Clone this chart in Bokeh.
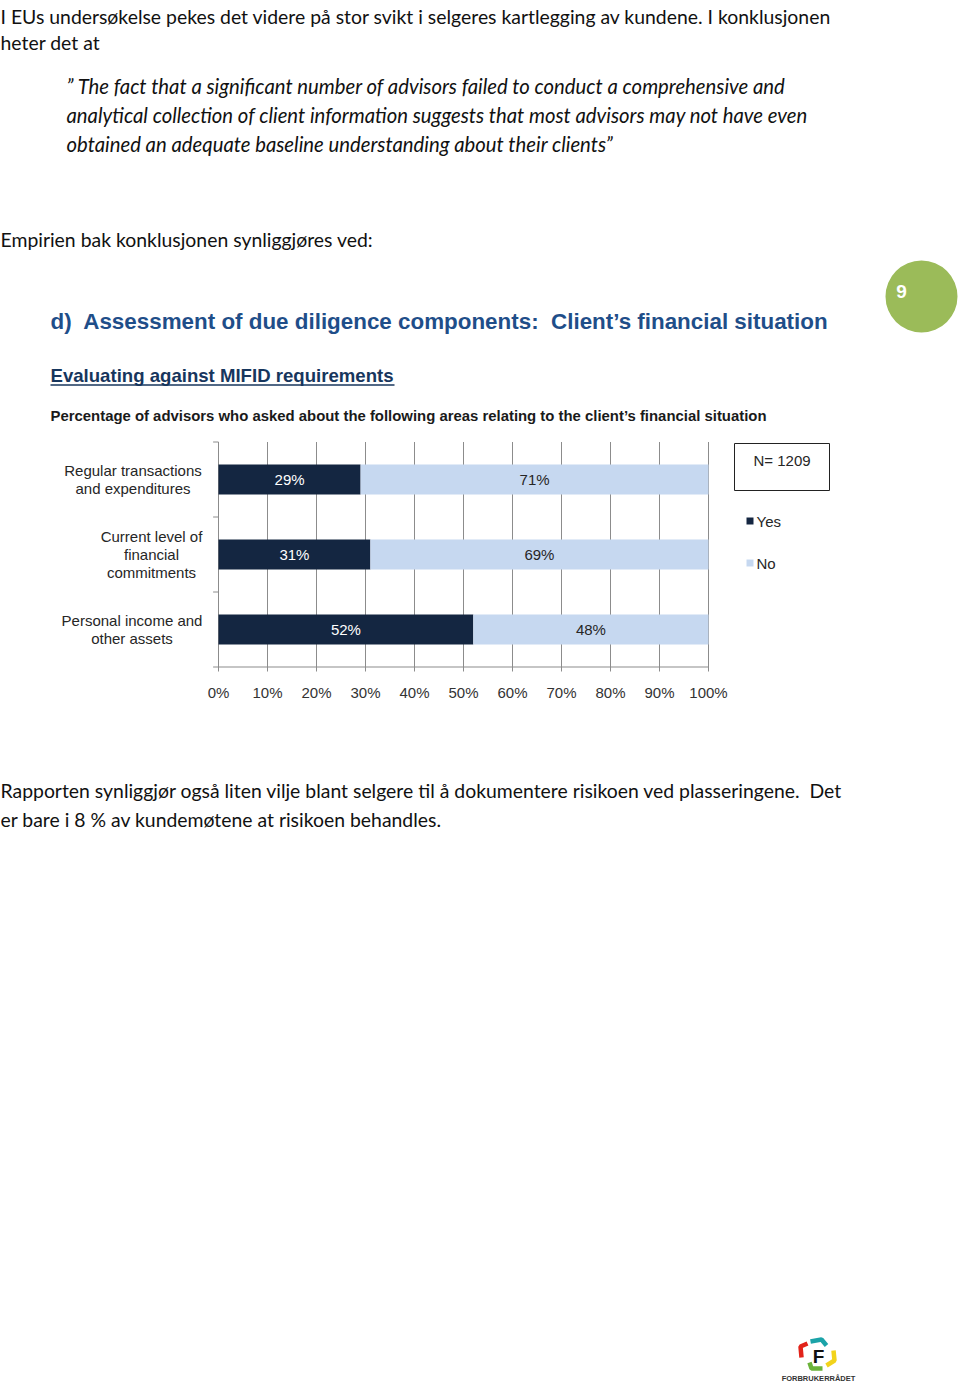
from bokeh.plotting import figure
from bokeh.models import Range1d, ColumnDataSource
from bokeh.core.properties import value
from bokeh.embed import file_html
from bokeh.resources import INLINE

# ---------------- data ----------------
categories = ["Regular transactions\nand expenditures",
              "Current level of\nfinancial\ncommitments",
              "Personal income and\nother assets"]
yes_pct = [29, 31, 52]
no_pct = [71, 69, 48]
tick_values = [0, 10, 20, 30, 40, 50, 60, 70, 80, 90, 100]
tick_labels = ["0%", "10%", "20%", "30%", "40%", "50%", "60%", "70%", "80%", "90%", "100%"]
series_names = ["Yes", "No"]
n_label = "N= 1209"

body_top = ["I EUs undersøkelse pekes det videre på stor svikt i selgeres kartlegging av kundene. I konklusjonen",
            "heter det at"]
quote_lines = ["” The fact that a significant number of advisors failed to conduct a comprehensive and",
               "analytical collection of client information suggests that most advisors may not have even",
               "obtained an adequate baseline understanding about their clients”"]
lead_in = "Empirien bak konklusjonen synliggjøres ved:"
body_bottom = ["Rapporten synliggjør også liten vilje blant selgere til å dokumentere risikoen ved plasseringene.\u00a0 Det",
               "er bare i 8 % av kundemøtene at risikoen behandles."]
chart_title = "d)\u00a0 Assessment of due diligence components:\u00a0 Client’s financial situation"
chart_sub = "Evaluating against MIFID requirements"
chart_desc = "Percentage of advisors who asked about the following areas relating to the client’s financial situation"
page_number = "9"

# ---------------- style / layout ----------------
W, H = 960, 1383
YES_C = "#142641"
NO_C = "#c6d8f0"
BODY_FONT = "Lato"
CH_FONT = "Liberation Sans"
CH_SIZE = "15px"

# chart plot area in page pixels
PX_LEFT, PX_PER_PCT = 218.0, 4.9
CAT0_PX, CAT_STEP = 479.0, 75.0

p = figure(width=W, height=H, x_range=Range1d(0, W), y_range=Range1d(H, 0),
           output_backend="svg", toolbar_location=None, min_border=0,
           x_axis_type=None, y_axis_type=None)
p.outline_line_color = None
p.grid.visible = False
p.background_fill_color = "white"
p.border_fill_color = "white"

p.extra_x_ranges = {"pct": Range1d(-PX_LEFT / PX_PER_PCT, (W - PX_LEFT) / PX_PER_PCT)}
p.extra_y_ranges = {"cat": Range1d((H - CAT0_PX) / CAT_STEP, (0 - CAT0_PX) / CAT_STEP)}

# ---------- body text ----------
def body(lines, x, ys, size, italic=False):
    src = ColumnDataSource(dict(x=[x] * len(lines), y=ys, t=lines))
    p.text(x="x", y="y", text="t", source=src, text_font=value(BODY_FONT),
           text_font_size=size, text_color="#111111", text_baseline="alphabetic",
           text_font_style="italic" if italic else "normal")

body(body_top, 0, [16, 42], "19.4px")
body(quote_lines, 66, [85, 114, 143], "20.3px", italic=True)
body([lead_in], 0, [239], "19.4px")
body(body_bottom, 0, [790, 819], "19.4px")

# ---------- chart headings ----------
p.text(x=[50], y=[321], text=[chart_title], text_font=value(CH_FONT), text_font_size="22.4px",
       text_font_style="bold", text_color="#1f4e89", text_baseline="middle")
p.text(x=[50], y=[375], text=[chart_sub], text_font=value(CH_FONT), text_font_size="18.6px",
       text_font_style="bold", text_color="#17365d", text_baseline="middle")
p.segment(x0=[50], y0=[384.5], x1=[394], y1=[384.5], line_color="#17365d", line_width=1.5)
p.text(x=[50], y=[415], text=[chart_desc], text_font=value(CH_FONT), text_font_size="14.9px",
       text_font_style="bold", text_color="#1a1a1a", text_baseline="middle")

# ---------- grid & axes (in data ranges) ----------
n = len(categories)
idx = list(range(n))
p.segment(x0=tick_values, x1=tick_values, y0=[-0.5] * len(tick_values), y1=[n - 0.5 + 0.06] * len(tick_values),
          line_color="#8c8c8c", line_width=1, x_range_name="pct", y_range_name="cat")
p.segment(x0=[0], x1=[100], y0=[n - 0.5], y1=[n - 0.5], line_color="#8c8c8c", line_width=1.2,
          x_range_name="pct", y_range_name="cat")
bounds = [i - 0.5 for i in range(n + 1)]
p.segment(x0=[-1.1] * len(bounds), x1=[0] * len(bounds), y0=bounds, y1=bounds, line_color="#8c8c8c",
          line_width=1, x_range_name="pct", y_range_name="cat")

# bars
yes_src = ColumnDataSource(dict(y=idx, left=[0] * n, right=yes_pct,
                                mid=[v / 2 for v in yes_pct], lab=[f"{v}%" for v in yes_pct]))
no_src = ColumnDataSource(dict(y=idx, left=yes_pct, right=[a + b for a, b in zip(yes_pct, no_pct)],
                               mid=[a + b / 2 for a, b in zip(yes_pct, no_pct)], lab=[f"{v}%" for v in no_pct]))
p.hbar(y="y", left="left", right="right", height=0.4, source=yes_src, fill_color=YES_C,
       line_color=None, x_range_name="pct", y_range_name="cat")
p.hbar(y="y", left="left", right="right", height=0.4, source=no_src, fill_color=NO_C,
       line_color=None, x_range_name="pct", y_range_name="cat")
p.text(x="mid", y="y", text="lab", source=yes_src, text_font=value(CH_FONT), text_font_size=CH_SIZE,
       text_color="white", text_align="center", text_baseline="middle",
       x_range_name="pct", y_range_name="cat")
p.text(x="mid", y="y", text="lab", source=no_src, text_font=value(CH_FONT), text_font_size=CH_SIZE,
       text_color="#262626", text_align="center", text_baseline="middle",
       x_range_name="pct", y_range_name="cat")

# tick labels
p.text(x=tick_values, y=[n - 0.5 + 0.34] * len(tick_values), text=tick_labels, text_font=value(CH_FONT),
       text_font_size=CH_SIZE, text_color="#333333", text_align="center", text_baseline="middle",
       x_range_name="pct", y_range_name="cat")

# category labels (multi-line, centred blocks ending at the axis)
cat_centers_px = [132.5, 151, 131.5]
p.text(x=cat_centers_px, y=[(CAT0_PX + CAT_STEP * i) for i in idx], text=categories,
       text_font=value(CH_FONT), text_font_size=CH_SIZE, text_color="#262626", text_align="center",
       text_baseline="middle", text_line_height=1.05)

# ---------- N box & legend ----------
p.quad(left=[734], right=[829], top=[443], bottom=[490], fill_color="white", line_color="#222222", line_width=1)
p.text(x=[781.5], y=[460], text=[n_label], text_font=value(CH_FONT), text_font_size=CH_SIZE,
       text_color="#262626", text_align="center", text_baseline="middle")
p.rect(x=[749.5, 749.5], y=[520.5, 562.5], width=7, height=7, fill_color=[YES_C, NO_C], line_color=None)
p.text(x=[756, 756], y=[521, 563], text=series_names, text_font=value(CH_FONT), text_font_size=CH_SIZE,
       text_color="#262626", text_baseline="middle")

# ---------- page number badge ----------
p.circle(x=[921], y=[296], radius=36, fill_color="#9bbb59", line_color=None)
p.text(x=[901], y=[291], text=[page_number], text_font=value(CH_FONT), text_font_size="19px",
       text_font_style="bold", text_color="white", text_align="center", text_baseline="middle")

# ---------- logo ----------
p.multi_line(xs=[[807, 800, 801], [810, 821, 826], [833, 834, 826], [822, 811, 809]],
             ys=[[1343, 1346, 1357], [1341, 1339, 1345], [1350, 1360, 1365], [1368, 1368, 1362]],
             line_color=["#e2231a", "#1ba3a8", "#f2d31b", "#6bb33a"], line_width=4.5)
p.text(x=[818], y=[1356], text=["F"], text_font=value(CH_FONT), text_font_size="19px",
       text_font_style="bold", text_color="#111111", text_align="center", text_baseline="middle")
p.text(x=[818], y=[1378], text=["FORBRUKERRÅDET"], text_font=value(CH_FONT), text_font_size="7.5px",
       text_font_style="bold", text_color="#333333", text_align="center", text_baseline="middle")

open("out.html", "w").write(file_html(p, INLINE))
